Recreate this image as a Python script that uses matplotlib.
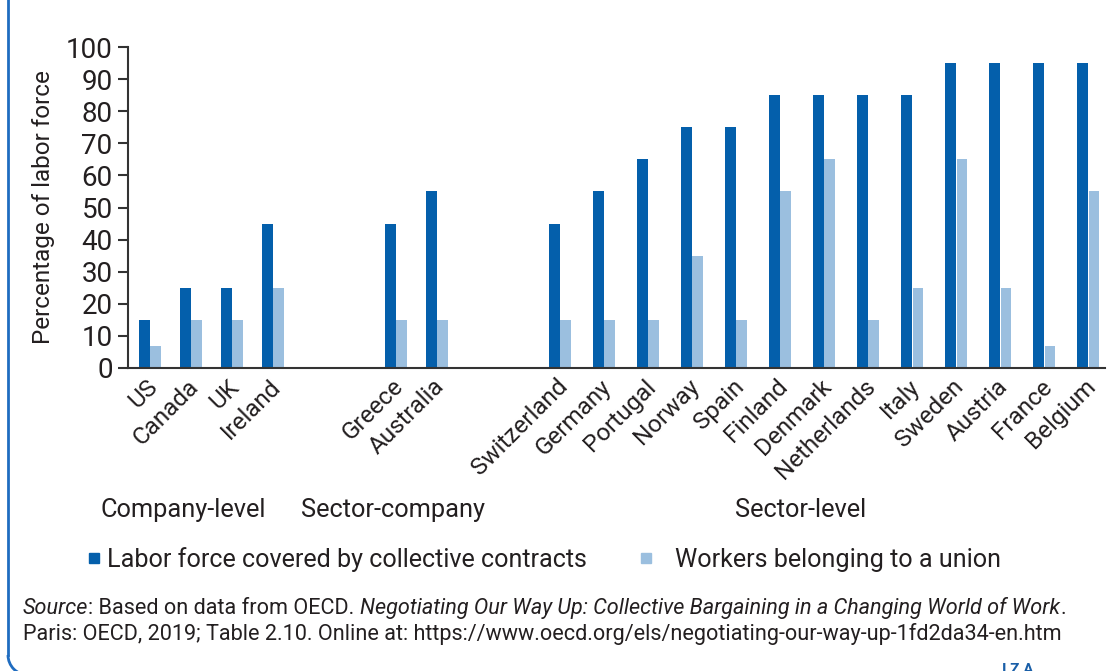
import numpy as np
import matplotlib
matplotlib.use("Agg")
import matplotlib.pyplot as plt
from matplotlib.patches import Rectangle, Arc
from matplotlib.lines import Line2D

plt.rcParams['font.family'] = ['Roboto', 'DejaVu Sans']

# data
company_level = ["US", "Canada", "UK", "Ireland"]
sector_company = ["Greece", "Australia"]
sector_level = ["Switzerland", "Germany", "Portugal", "Norway", "Spain", "Finland",
                "Denmark", "Netherlands", "Italy", "Sweden", "Austria", "France", "Belgium"]

covered_company = [15, 25, 25, 45]
covered_sector_company = [45, 55]
covered_sector = [45, 55, 65, 75, 75, 85, 85, 85, 85, 95, 95, 95, 95]

union_company = [7, 15, 15, 25]
union_sector_company = [15, 15]
union_sector = [15, 15, 15, 35, 15, 55, 65, 15, 25, 65, 25, 7, 55]

group_names = ["Company-level", "Sector-company", "Sector-level"]
series_names = ["Labor force covered by collective contracts", "Workers belonging to a union"]

DARK = "#045fab"
LIGHT = "#9bbfdf"
TEXT = "#231f20"
FRAME = "#1f6cc0"
W, H = 1116, 671


def fx(px):
    return px / W


def fy(py):
    # pixel measured from the top
    return (H - py) / H


# x layout: step 1 in the first two groups, slightly wider in the last one
groups = [company_level, sector_company, sector_level]
steps = [1.0, 1.0, 44 / 41]
gap = 3.0
xs = []
start = 0.0
for names, step in zip(groups, steps):
    pos = start + step * np.arange(len(names))
    xs.append(pos)
    start = pos[-1] + gap
x = np.concatenate(xs)
labels = company_level + sector_company + sector_level
covered = covered_company + covered_sector_company + covered_sector
union = union_company + union_sector_company + union_sector

fig = plt.figure(figsize=(W / 100, H / 100), dpi=100)
ax = fig.add_axes([fx(128), fy(368), fx(1105) - fx(128), fy(47) - fy(368)])

w = 0.25
ax.bar(x - 0.135, covered, width=w, color=DARK)
ax.bar(x + 0.135, union, width=w, color=LIGHT)

ax.set_xlim(-0.537, 23.29)
ax.set_ylim(0, 100)
ax.set_yticks(range(0, 101, 10))
ax.tick_params(axis="y", labelsize=20, length=7, width=1.5, color="#333333", labelcolor=TEXT, pad=4)
ax.tick_params(axis="x", length=0, labelsize=17.5, labelcolor=TEXT, pad=5)
ax.set_xticks(x - 0.1)
ax.set_xticklabels(labels, rotation=45, ha="right", va="top", rotation_mode="anchor")
for s in ["top", "right"]:
    ax.spines[s].set_visible(False)
for s in ["left", "bottom"]:
    ax.spines[s].set_linewidth(1.5)
    ax.spines[s].set_color("#333333")
ax.set_ylabel("Percentage of labor force", fontsize=17.5, color=TEXT, labelpad=8)

# group labels under the country names
for cx, name in zip([183, 393, 801], group_names):
    fig.text(fx(cx), fy(517), name, ha="center", va="baseline", fontsize=18.3, color=TEXT)

# legend, drawn by hand: square + label
for sq_x, txt_x, col, name in [(89, 107, DARK, series_names[0]), (641, 675, LIGHT, series_names[1])]:
    fig.add_artist(Rectangle((fx(sq_x), fy(563)), 10 / W, 10 / H, transform=fig.transFigure,
                             color=col))
    fig.text(fx(txt_x), fy(560), name, ha="left", va="center", fontsize=18.1, color=TEXT)

# source note
fig.canvas.draw()
r = fig.canvas.get_renderer()
parts = [("Source", "italic"), (": Based on data from OECD. ", "normal"),
         ("Negotiating Our Way Up: Collective Bargaining in a Changing World of Work", "italic"),
         (".", "normal")]
xpix = 23
for txt, st in parts:
    t = fig.text(fx(xpix), fy(614), txt, fontsize=15.6, color=TEXT, va="baseline", style=st)
    xpix += t.get_window_extent(renderer=r).width
fig.text(fx(23), fy(640),
         "Paris: OECD, 2019; Table 2.10. Online at: https://www.oecd.org/els/negotiating-our-way-up-1fd2da34-en.htm",
         fontsize=15.6, color=TEXT, va="baseline")

# frame: left edge with a rounded bottom-left corner, running off the canvas
rad = 20
fig.add_artist(Line2D([fx(8), fx(8)], [fy(-5), fy(675 - rad)], transform=fig.transFigure,
                      color=FRAME, lw=2))
fig.add_artist(Arc((fx(8 + rad), fy(675 - rad)), 2 * rad / W, 2 * rad / H, theta1=180, theta2=270,
                   transform=fig.transFigure, color=FRAME, lw=2))
fig.add_artist(Line2D([fx(8 + rad), fx(W + 5)], [fy(675), fy(675)], transform=fig.transFigure,
                      color=FRAME, lw=2))
fig.text(fx(1018), fy(663), "I Z A", fontsize=11, fontweight="bold",
         color="#1a5fa8", ha="center", va="top")

fig.savefig("out.png", dpi=100)
